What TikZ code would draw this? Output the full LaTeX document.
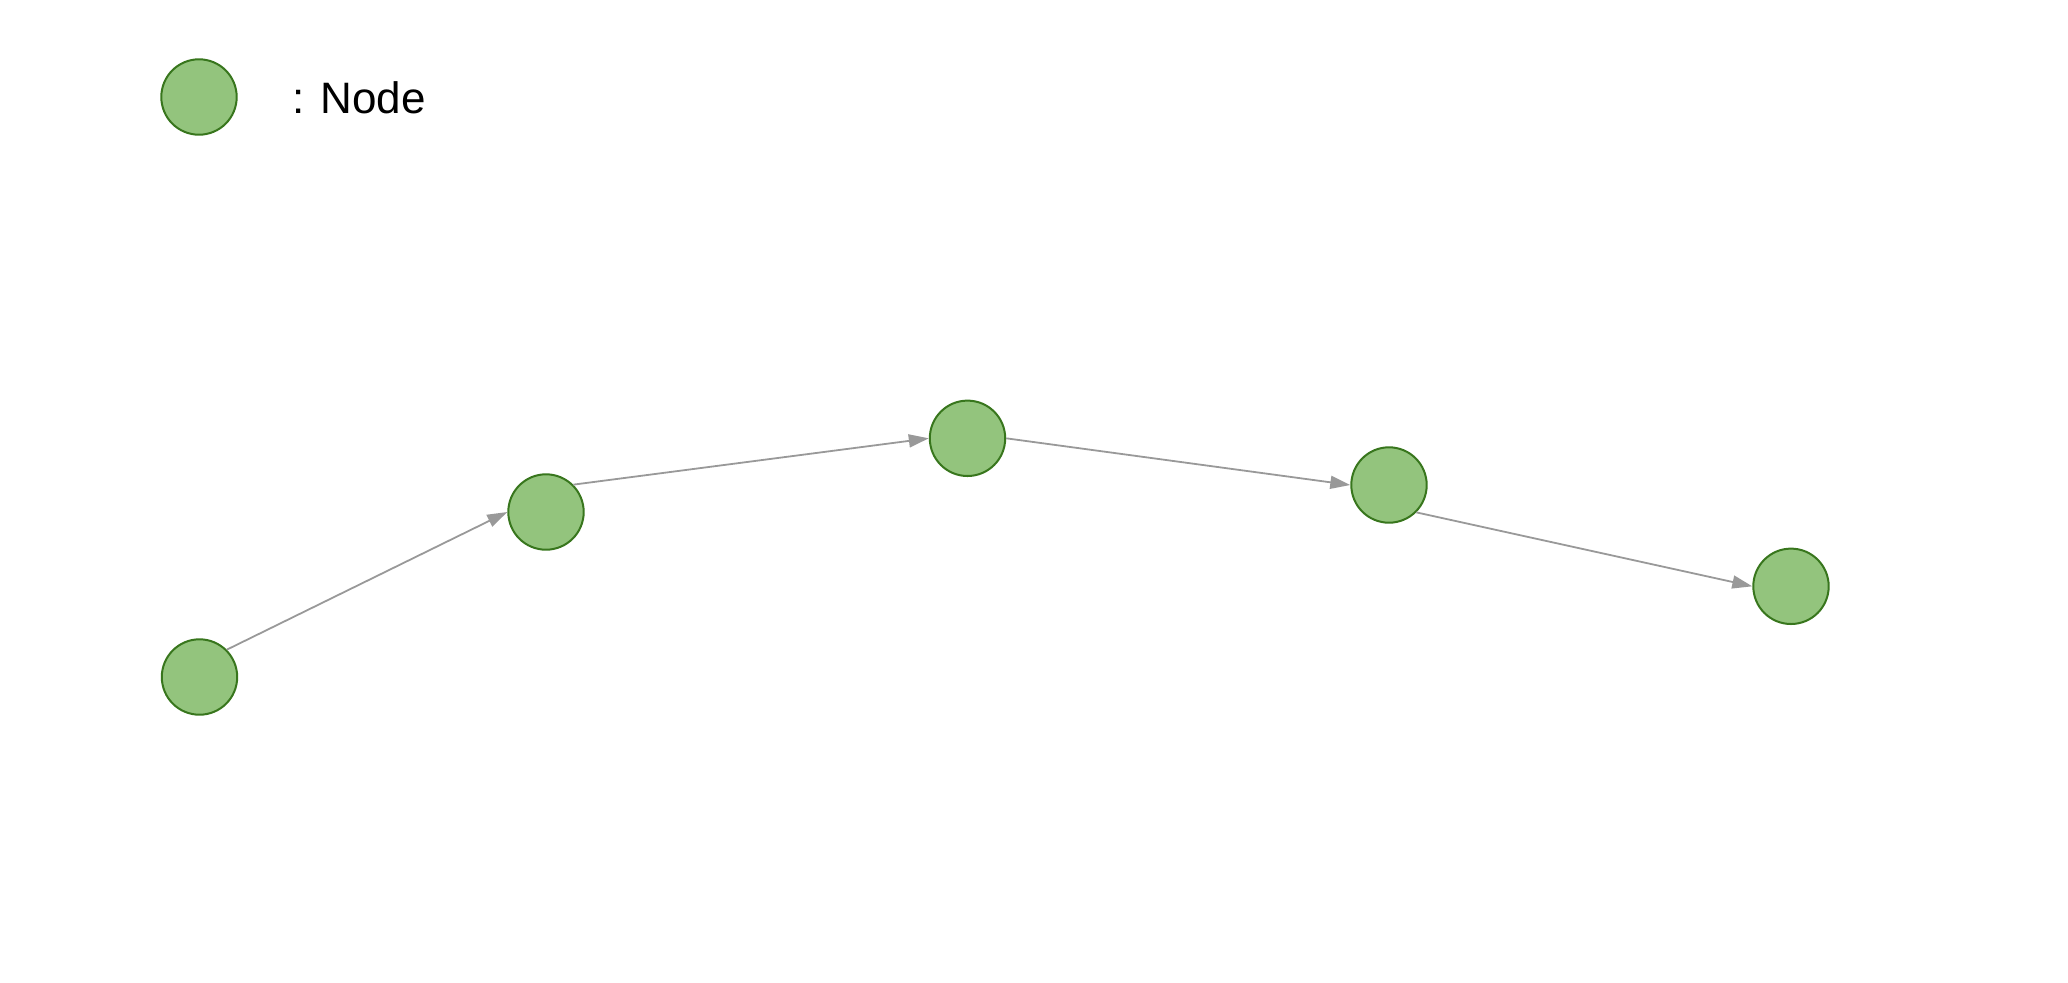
\documentclass[tikz,border=0pt]{standalone}
\usepackage{fontspec}
\setmainfont{Liberation Sans}
\usetikzlibrary{arrows.meta}
\definecolor{nodefill}{HTML}{93C47D}
\definecolor{nodeline}{HTML}{38761D}
\definecolor{edgecol}{HTML}{999999}
\begin{document}
\begin{tikzpicture}[x=0.5pt,y=-0.5pt,
  gnode/.style={circle,draw=nodeline,fill=nodefill,line width=1pt,minimum size=37.7pt,inner sep=0pt},
  edge/.style={draw=edgecol,line width=0.9pt,-{Triangle[length=10pt,width=6.5pt]}},
  lbl/.style={inner sep=0pt,anchor=base west,font=\fontsize{22pt}{26pt}\selectfont}]
\useasboundingbox (0,0) rectangle (2068,982);
\node[gnode] (legend) at (199,97) {};
\node[lbl] (legendtext) at (292,113) {:\hspace{8pt}Node};
\node[gnode] (n1) at (199.5,677) {};
\node[gnode] (n2) at (546,512) {};
\node[gnode] (n3) at (967.5,438.3) {};
\node[gnode] (n4) at (1389,485) {};
\node[gnode] (n5) at (1791,586.3) {};
\draw[edge] (n1.north east) -- (n2.west);
\draw[edge] (n2.north east) -- (n3.west);
\draw[edge] (n3.east) -- (n4.west);
\draw[edge] (n4.south east) -- (n5.west);
\end{tikzpicture}
\end{document}
